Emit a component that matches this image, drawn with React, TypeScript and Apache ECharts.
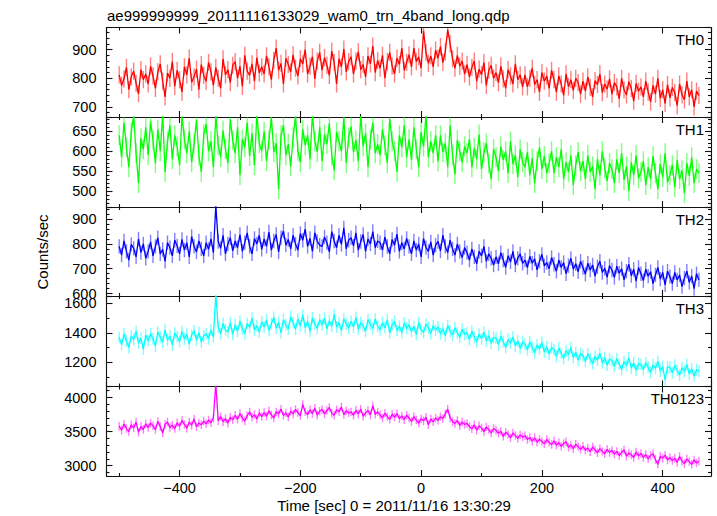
import React, { useEffect, useRef } from "react";
import * as echarts from "echarts";

const TITLE = "ae999999999_20111116133029_wam0_trn_4band_long.qdp";
const X_NAME = "Time [sec] 0 = 2011/11/16 13:30:29";
const Y_NAME = "Counts/sec";

// time bins (seconds) of the light curves
const T_START = -500;
const T_STEP = 4;
const X_MIN = -521;
const X_MAX = 480;
const X_MAJOR = 200;

const panelNames = ["TH0", "TH1", "TH2", "TH3", "TH0123"];
const panelColors = ["#ff0000", "#00ff00", "#0000ff", "#00ffff", "#ff00ff"];
const panelPale = [
  "rgba(255,0,0,0.5)",
  "rgba(0,255,0,0.5)",
  "rgba(0,0,255,0.5)",
  "rgba(0,255,255,0.5)",
  "rgba(255,0,255,0.5)",
];
const panelMin = [665, 460, 590, 1035, 2849];
const panelMax = [977, 686, 949, 1651, 4162];
const panelMajor = [100, 50, 100, 200, 500];
const panelMinorSplit = [5, 5, 5, 2, 5];
const panelErr = [30, 25, 29, 40, 62];

const th0 = [
  812, 775, 798, 838, 760, 805, 825, 782, 746, 830, 795, 815,
  780, 842, 808, 765, 822, 850, 790, 735, 818, 800, 858, 772,
  828, 795, 752, 840, 812, 870, 786, 805, 832, 760, 848, 810,
  790, 855, 822, 775, 838, 800, 765, 868, 812, 830, 785, 845,
  858, 800, 842, 772, 880, 825, 810, 850, 790, 872, 818, 840,
  815, 878, 840, 795, 862, 905, 828, 852, 780, 870, 848, 822,
  882, 835, 808, 868, 850, 900, 815, 842, 875, 798, 860, 890,
  828, 872, 845, 810, 895, 855, 780, 868, 840, 902, 822, 858,
  875, 815, 860, 892, 830, 848, 805, 878, 850, 912, 820, 862,
  835, 880, 800, 858, 890, 842, 815, 870, 848, 905, 828, 855,
  882, 840, 905, 858, 875, 835, 965, 890, 852, 878, 840, 898,
  870, 910, 855, 892, 970, 920, 868, 835, 880, 842, 860, 815,
  848, 805, 838, 860, 790, 832, 812, 855, 775, 828, 845, 800,
  820, 785, 842, 798, 765, 830, 808, 780, 850, 795, 812, 770,
  812, 770, 800, 835, 778, 795, 752, 820, 790, 808, 765, 828,
  795, 752, 808, 780, 740, 815, 770, 795, 758, 800, 785, 745,
  790, 755, 805, 768, 735, 792, 778, 815, 750, 780, 762, 798,
  745, 785, 770, 728, 800, 760, 742, 788, 765, 720, 782, 755,
  770, 735, 790, 752, 718, 775, 745, 800, 730, 760, 712, 778,
  732, 768, 750, 705, 780, 742, 725, 790, 735, 760, 700, 755,
  740,
];

const th1 = [
  640, 585, 672, 610, 560, 648, 690, 595, 520, 632, 605, 660,
  590, 675, 628, 570, 655, 600, 692, 548, 625, 665, 580, 640,
  612, 565, 688, 630, 595, 650, 572, 620, 678, 590, 548, 642,
  668, 600, 625, 560, 690, 615, 585, 652, 605, 570, 680, 628,
  595, 660, 540, 630, 610, 672, 588, 645, 565, 695, 620, 600,
  650, 575, 628, 685, 598, 620, 505, 640, 665, 590, 618, 562,
  635, 688, 600, 572, 655, 615, 640, 580, 692, 625, 598, 660,
  575, 642, 618, 670, 590, 552, 648, 625, 600, 685, 570, 635,
  662, 598, 628, 575, 690, 612, 645, 560, 630, 672, 595, 618,
  590, 655, 615, 570, 682, 625, 600, 548, 640, 610, 665, 585,
  630, 578, 660, 605, 560, 648, 612, 690, 585, 625, 595, 640,
  575, 640, 598, 620, 560, 665, 590, 542, 628, 600, 572, 612,
  595, 630, 560, 608, 580, 642, 555, 598, 620, 570, 530, 605,
  585, 550, 612, 578, 600, 545, 625, 568, 590, 535, 605, 572,
  560, 598, 540, 582, 520, 575, 610, 555, 588, 545, 570, 600,
  545, 585, 560, 605, 530, 572, 548, 590, 515, 565, 598, 550,
  575, 530, 590, 548, 562, 505, 580, 540, 600, 558, 525, 570,
  555, 520, 580, 545, 595, 528, 562, 500, 572, 540, 590, 532,
  548, 575, 515, 560, 530, 588, 545, 505, 568, 535, 595, 522,
  540, 565, 510, 578, 530, 552, 495, 570, 538, 585, 520, 555,
  545,
];

const th2 = [
  790, 755, 812, 770, 735, 798, 782, 748, 820, 765, 800, 742,
  770, 808, 752, 790, 825, 760, 778, 730, 805, 785, 752, 815,
  792, 760, 818, 775, 805, 748, 830, 790, 768, 812, 780, 752,
  805, 778, 820, 765, 955, 810, 782, 835, 760, 800, 825, 772,
  812, 785, 838, 770, 805, 845, 790, 760, 822, 800, 835, 778,
  820, 790, 848, 775, 812, 838, 768, 825, 852, 795, 818, 780,
  835, 800, 775, 842, 815, 860, 790, 822, 770, 845, 810, 795,
  790, 828, 805, 768, 850, 812, 785, 835, 798, 865, 780, 815,
  825, 792, 845, 775, 810, 838, 770, 820, 800, 850, 785, 812,
  805, 775, 828, 790, 760, 818, 795, 840, 770, 805, 780, 822,
  790, 760, 812, 775, 800, 748, 822, 785, 770, 808, 755, 795,
  810, 772, 835, 790, 765, 815, 780, 755, 800, 770, 745, 785,
  765, 735, 780, 748, 720, 770, 752, 790, 730, 760, 742, 715,
  748, 720, 765, 735, 705, 752, 728, 770, 715, 742, 760, 722,
  735, 705, 750, 722, 740, 695, 730, 758, 712, 725, 700, 745,
  718, 690, 735, 705, 725, 680, 712, 742, 698, 720, 688, 730,
  705, 678, 722, 695, 715, 670, 708, 730, 685, 702, 665, 712,
  695, 665, 710, 682, 700, 655, 690, 718, 672, 698, 650, 705,
  680, 652, 698, 670, 688, 640, 675, 705, 658, 685, 635, 690,
  668, 640, 685, 655, 675, 628, 662, 690, 645, 670, 620, 680,
  655,
];

const th3 = [
  1370, 1320, 1395, 1345, 1300, 1380, 1355, 1410, 1330, 1365, 1290, 1385,
  1345, 1395, 1360, 1310, 1405, 1372, 1335, 1420, 1350, 1380, 1318, 1398,
  1375, 1340, 1410, 1358, 1392, 1325, 1385, 1415, 1350, 1402, 1338, 1380,
  1395, 1360, 1420, 1372, 1660, 1440, 1395, 1465, 1420, 1405, 1470, 1390,
  1455, 1410, 1480, 1425, 1395, 1465, 1438, 1500, 1420, 1450, 1405, 1475,
  1440, 1488, 1415, 1462, 1505, 1430, 1472, 1400, 1490, 1455, 1425, 1510,
  1470, 1425, 1495, 1448, 1520, 1435, 1478, 1410, 1502, 1460, 1430, 1490,
  1455, 1500, 1428, 1482, 1445, 1525, 1440, 1470, 1415, 1495, 1462, 1432,
  1480, 1440, 1505, 1425, 1470, 1448, 1410, 1490, 1458, 1430, 1495, 1445,
  1420, 1470, 1435, 1488, 1400, 1455, 1478, 1415, 1445, 1402, 1468, 1430,
  1455, 1410, 1445, 1390, 1470, 1425, 1402, 1460, 1435, 1395, 1450, 1418,
  1440, 1395, 1428, 1380, 1450, 1412, 1385, 1435, 1400, 1370, 1425, 1390,
  1400, 1355, 1412, 1370, 1340, 1392, 1360, 1405, 1345, 1380, 1330, 1370,
  1365, 1320, 1378, 1340, 1300, 1355, 1330, 1372, 1310, 1345, 1295, 1340,
  1322, 1285, 1340, 1300, 1265, 1318, 1290, 1335, 1270, 1305, 1255, 1300,
  1285, 1240, 1298, 1262, 1225, 1280, 1250, 1300, 1232, 1268, 1215, 1260,
  1245, 1205, 1258, 1225, 1190, 1240, 1215, 1262, 1195, 1230, 1180, 1222,
  1210, 1172, 1225, 1188, 1150, 1205, 1178, 1230, 1160, 1195, 1145, 1190,
  1185, 1150, 1198, 1165, 1130, 1182, 1158, 1205, 1140, 1172, 1080, 1168,
  1165, 1128, 1180, 1145, 1112, 1162, 1138, 1185, 1120, 1155, 1105, 1150,
  1140,
];

const th0123 = [
  3580, 3520, 3610, 3545, 3500, 3600, 3555, 3640, 3490, 3575, 3530, 3615,
  3560, 3625, 3585, 3530, 3650, 3575, 3480, 3605, 3640, 3560, 3595, 3545,
  3630, 3580, 3665, 3605, 3550, 3640, 3595, 3685, 3570, 3625, 3600, 3655,
  3615, 3670, 3630, 3700, 4200, 3660, 3720, 3645, 3690, 3625, 3710, 3675,
  3740, 3680, 3765, 3700, 3655, 3735, 3790, 3710, 3750, 3685, 3775, 3720,
  3780, 3725, 3805, 3745, 3700, 3790, 3760, 3830, 3735, 3775, 3715, 3800,
  3760, 3825, 3780, 3735, 3900, 3790, 3750, 3820, 3765, 3845, 3740, 3800,
  3825, 3760, 3810, 3855, 3770, 3740, 3820, 3790, 3860, 3750, 3805, 3775,
  3790, 3740, 3815, 3760, 3830, 3725, 3775, 3810, 3745, 3880, 3755, 3790,
  3745, 3700, 3770, 3720, 3680, 3755, 3710, 3765, 3690, 3730, 3675, 3740,
  3700, 3650, 3720, 3670, 3625, 3690, 3660, 3710, 3600, 3685, 3645, 3700,
  3665, 3720, 3690, 3760, 3830, 3700, 3650, 3620, 3665, 3590, 3640, 3605,
  3620, 3575, 3540, 3600, 3520, 3585, 3555, 3500, 3570, 3530, 3480, 3545,
  3520, 3475, 3505, 3430, 3490, 3460, 3410, 3480, 3445, 3400, 3450, 3420,
  3440, 3385, 3415, 3360, 3410, 3345, 3390, 3355, 3320, 3385, 3340, 3310,
  3365, 3300, 3340, 3285, 3325, 3350, 3270, 3305, 3250, 3315, 3280, 3240,
  3285, 3225, 3260, 3205, 3275, 3230, 3190, 3250, 3210, 3175, 3240, 3195,
  3225, 3170, 3210, 3150, 3195, 3230, 3140, 3185, 3160, 3120, 3200, 3145,
  3180, 3120, 3165, 3100, 3150, 3175, 3090, 3020, 3140, 3110, 3155, 3085,
  3120, 3075, 3110, 3050, 3135, 3065, 3030, 3100, 3060, 3020, 3085, 3040,
  3065,
];

const panelValues = [th0, th1, th2, th3, th0123];

const FONT = "'Liberation Sans', Arial, Helvetica, sans-serif";
const W = 717;
const H = 516;
const GRID_LEFT = 106.5;
const GRID_RIGHT = 6;
const GRID_EDGES = [27.5, 117, 207, 296, 386.5, 476];

const plainFmt = (v: number) => String(v).replace("-", "\u2212");

function buildOption() {
  const grid: any[] = [];
  const xAxis: any[] = [];
  const yAxis: any[] = [];
  const series: any[] = [];
  const graphic: any[] = [];

  const lineStyle = { color: "#111", width: 1.1 };

  panelNames.forEach((name, i) => {
    const top = GRID_EDGES[i];
    const height = GRID_EDGES[i + 1] - GRID_EDGES[i];
    grid.push({ left: GRID_LEFT, right: GRID_RIGHT, top, height, show: false, outerBoundsMode: "none" });

    const common = {
      type: "value",
      axisLine: { show: true, onZero: false, lineStyle },
      axisTick: { show: true, inside: true, length: 6, lineStyle },
      splitLine: { show: false },
      minorSplitLine: { show: false },
    };

    ["bottom", "top"].forEach((pos, k) => {
      xAxis.push({
        ...common,
        gridIndex: i,
        position: pos,
        min: X_MIN,
        max: X_MAX,
        minInterval: X_MAJOR,
        maxInterval: X_MAJOR,
        minorTick: { show: true, splitNumber: 2, length: 3, lineStyle },
        axisLabel: {
          show: i === panelNames.length - 1 && k === 0,
          margin: 4,
          fontSize: 14.5,
          fontFamily: FONT,
          color: "#000",
          showMinLabel: false,
          showMaxLabel: false,
          formatter: plainFmt,
        },
      });
    });

    ["left", "right"].forEach((pos, k) => {
      yAxis.push({
        ...common,
        gridIndex: i,
        position: pos,
        min: panelMin[i],
        max: panelMax[i],
        minInterval: panelMajor[i],
        maxInterval: panelMajor[i],
        minorTick: { show: true, splitNumber: panelMinorSplit[i], length: 3, lineStyle },
        axisLabel: {
          show: k === 0,
          margin: 10,
          fontSize: 14.5,
          fontFamily: FONT,
          color: "#000",
          showMinLabel: false,
          showMaxLabel: false,
          formatter: plainFmt,
        },
      });
    });

    const vals = panelValues[i];
    const err = panelErr[i];
    const pale = panelPale[i];
    series.push({
      type: "custom",
      xAxisIndex: 2 * i,
      yAxisIndex: 2 * i,
      clip: true,
      z: 1,
      silent: true,
      encode: { x: 0, y: 1 },
      data: vals.map((v, j) => [T_START + j * T_STEP, v, err]),
      renderItem: (params: any, api: any) => {
        const x = api.value(0);
        const y = api.value(1);
        const e = api.value(2);
        const lo = api.coord([x, y - e]);
        const hi = api.coord([x, y + e]);
        return {
          type: "line",
          shape: { x1: lo[0], y1: lo[1], x2: hi[0], y2: hi[1] },
          style: { stroke: pale, lineWidth: 1.4 },
        };
      },
    });
    series.push({
      type: "line",
      name,
      xAxisIndex: 2 * i,
      yAxisIndex: 2 * i,
      clip: true,
      z: 2,
      symbol: "none",
      showSymbol: false,
      silent: true,
      lineStyle: { color: panelColors[i], width: 1.3 },
      data: vals.map((v, j) => [T_START + j * T_STEP, v]),
    });

    graphic.push({
      type: "text",
      x: 704,
      y: top + 12,
      style: {
        text: name,
        font: `15px ${FONT}`,
        fill: "#000",
        align: "right",
        verticalAlign: "middle",
        textAlign: "right",
        textVerticalAlign: "middle",
      },
    });
  });

  graphic.push({
    type: "text",
    x: 107,
    y: 15.5,
    style: {
      text: TITLE,
      font: `15px ${FONT}`,
      fill: "#000",
      align: "left",
      verticalAlign: "middle",
      textAlign: "left",
      textVerticalAlign: "middle",
    },
  });
  graphic.push({
    type: "text",
    x: 394,
    y: 505,
    style: {
      text: X_NAME,
      font: `15px ${FONT}`,
      fill: "#000",
      align: "center",
      verticalAlign: "middle",
      textAlign: "center",
      textVerticalAlign: "middle",
    },
  });
  graphic.push({
    type: "text",
    x: 42,
    y: 252,
    rotation: Math.PI / 2,
    style: {
      text: Y_NAME,
      font: `15px ${FONT}`,
      fill: "#000",
      align: "center",
      verticalAlign: "middle",
      textAlign: "center",
      textVerticalAlign: "middle",
    },
  });

  return {
    animation: false,
    backgroundColor: "#fff",
    grid,
    xAxis,
    yAxis,
    series,
    graphic,
  };
}

export default function App() {
  const ref = useRef<HTMLDivElement>(null);
  useEffect(() => {
    if (!ref.current) return;
    const chart = echarts.init(ref.current, null, { renderer: "svg", width: W, height: H });
    chart.setOption(buildOption() as any);
    return () => chart.dispose();
  }, []);
  return (
    <div
      ref={ref}
      style={{ position: "fixed", left: 0, top: 0, width: W, height: H, background: "#fff" }}
    />
  );
}
